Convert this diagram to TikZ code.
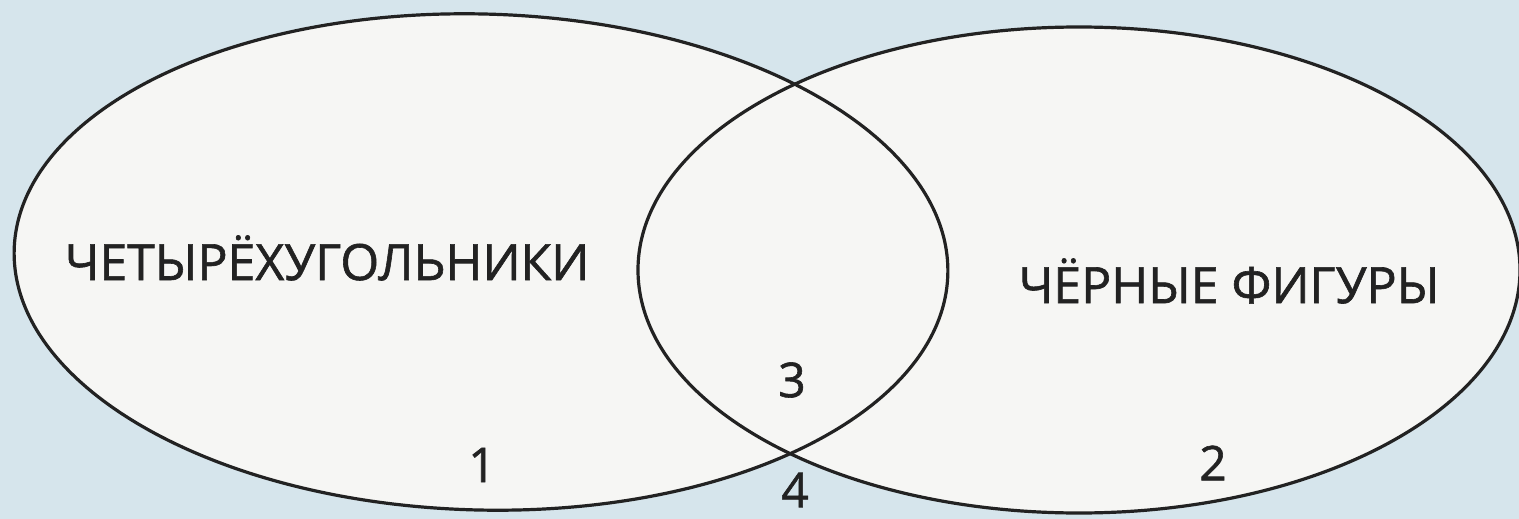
\documentclass[tikz,border=0pt]{standalone}
\usepackage{fontspec}
\setmainfont[FakeBold=1.2]{Open Sans}
\usepackage{xcolor}
\usetikzlibrary{shapes.geometric}

\definecolor{pagebg}{RGB}{214,229,236}
\definecolor{setfill}{RGB}{246,246,244}
\definecolor{setline}{RGB}{34,34,34}

\begin{document}
\begin{tikzpicture}[
  x=1pt, y=-1pt,
  set/.style={ellipse, inner sep=0pt},
  setedge/.style={set, draw=setline, line width=3.2pt},
  lbl/.style={font=\fontsize{50}{50}\selectfont, text=setline, inner sep=0pt},
  num/.style={font=\fontsize{48}{48}\selectfont, text=setline, inner sep=0pt},
]
\fill[pagebg] (0,0) rectangle (1519,519);
\useasboundingbox (0,0) rectangle (1519,519);

% the two sets, filled first so both outlines stay visible
\node[set, fill=setfill, minimum width=934pt, minimum height=496pt, rotate=-1.5] (quad) at (481,262) {};
\node[set, fill=setfill, minimum width=882pt, minimum height=486pt] (black) at (1079,270) {};
\node[setedge, minimum width=934pt, minimum height=496pt, rotate=-1.5] (quadedge) at (quad.center) {};
\node[setedge, minimum width=882pt, minimum height=486pt] (blackedge) at (black.center) {};

\node[lbl] (quadname) at (327,258) {ЧЕТЫРЁХУГОЛЬНИКИ};
\node[lbl] (blackname) at (1229,281) {ЧЁРНЫЕ ФИГУРЫ};

\node[num] (one) at (482,465) {1};
\node[num] (two) at (1213,463) {2};
\node[num] (three) at (792,380) {3};
\node[num] (four) at (795,490) {4};
\end{tikzpicture}
\end{document}
